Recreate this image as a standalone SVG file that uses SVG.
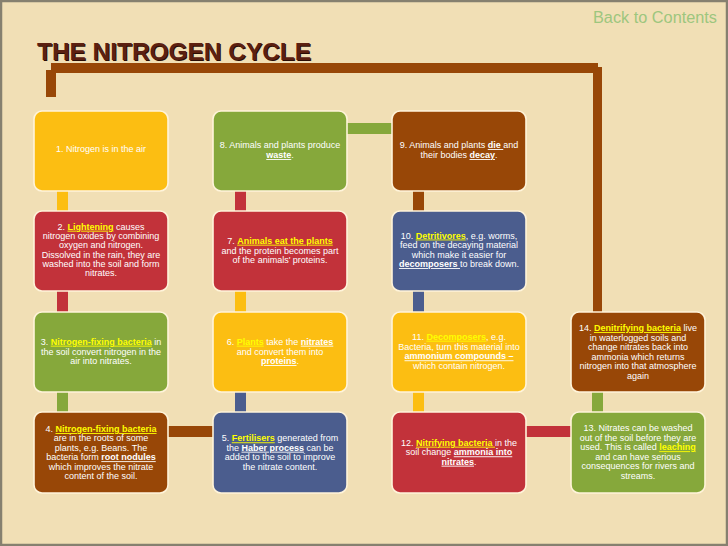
<svg xmlns="http://www.w3.org/2000/svg" width="728" height="546" viewBox="0 0 728 546">
<defs>
<style>
.bg{fill:#F1DFB5}
.frame{fill:none;stroke:#86806f;stroke-width:2.5}
.node{stroke:#FFF4DA;stroke-width:1.6}
.or{fill:#FCBE12}.rd{fill:#C2323A}.gr{fill:#86A83B}.br{fill:#984707}.bl{fill:#4B5D8E}
.t{font-family:"Liberation Sans",Arial,sans-serif;font-size:9px;fill:#FFFFFF;text-anchor:middle}
.y{fill:#FFFF00;font-weight:bold;text-decoration:underline}
.w{font-weight:bold;text-decoration:underline}
.title{font-family:"Liberation Sans",Arial,sans-serif;font-weight:bold;font-size:24px}
</style>
</defs>
<rect class="bg" x="0" y="0" width="728" height="546"/>
<rect class="frame" x="1" y="1" width="726" height="544"/>
<text class="title" x="38" y="61" fill="#2a0c04" textLength="274" lengthAdjust="spacingAndGlyphs">THE NITROGEN CYCLE</text>
<text class="title" x="37" y="60" fill="#5C2010" textLength="274" lengthAdjust="spacingAndGlyphs">THE NITROGEN CYCLE</text>
<text x="593" y="23" font-family="Liberation Sans, Arial, sans-serif" font-size="16" fill="#9DC67E" textLength="124" lengthAdjust="spacingAndGlyphs">Back to Contents</text>

<g id="connectors">
<rect class="or" x="57" y="190" width="11" height="22"/>
<rect class="rd" x="57" y="290" width="11" height="23"/>
<rect class="gr" x="57" y="391" width="11" height="22"/>
<rect class="br" x="167" y="426" width="47" height="11"/>
<rect class="bl" x="235" y="391" width="11" height="22"/>
<rect class="or" x="235" y="290" width="11" height="23"/>
<rect class="rd" x="235" y="190" width="11" height="22"/>
<rect class="gr" x="346" y="123" width="47" height="11"/>
<rect class="br" x="413" y="190" width="11" height="22"/>
<rect class="bl" x="413" y="290" width="11" height="23"/>
<rect class="or" x="413" y="391" width="11" height="22"/>
<rect class="rd" x="525" y="426" width="47" height="11"/>
<rect class="gr" x="592" y="391" width="11" height="22"/>
<rect class="br" x="51" y="63" width="547" height="10"/>
<rect class="br" x="46" y="70" width="10" height="27"/>
<rect class="br" x="593" y="67" width="9" height="246"/>
</g>

<g id="n1"><rect class="node or" x="34" y="111" width="134" height="80" rx="8"/>
<text class="t" x="101" y="152">1. Nitrogen is in the air</text></g>

<g id="n2"><rect class="node rd" x="34" y="211" width="134" height="80" rx="8"/>
<text class="t" x="101" y="229.7">2. <tspan class="y">Lightening</tspan> causes</text>
<text class="t" x="101" y="239">nitrogen oxides by combining</text>
<text class="t" x="101" y="248.3">oxygen and nitrogen.</text>
<text class="t" x="101" y="257.6">Dissolved in the rain, they are</text>
<text class="t" x="101" y="266.9">washed into the soil and form</text>
<text class="t" x="101" y="276.2">nitrates.</text></g>

<g id="n3"><rect class="node gr" x="34" y="312" width="134" height="80" rx="8"/>
<text class="t" x="101" y="344.7">3. <tspan class="y">Nitrogen-fixing bacteria</tspan> in</text>
<text class="t" x="101" y="354.5">the soil convert nitrogen in the</text>
<text class="t" x="101" y="364">air into nitrates.</text></g>

<g id="n4"><rect class="node br" x="34" y="412" width="134" height="81" rx="8"/>
<text class="t" x="101" y="432">4. <tspan class="y">Nitrogen-fixing bacteria</tspan></text>
<text class="t" x="101" y="441.4">are in the roots of some</text>
<text class="t" x="101" y="450.8">plants, e.g. Beans. The</text>
<text class="t" x="101" y="460.2">bacteria form <tspan class="w">root nodules</tspan></text>
<text class="t" x="101" y="469.6">which improves the nitrate</text>
<text class="t" x="101" y="479">content of the soil.</text></g>

<g id="n5"><rect class="node bl" x="213" y="412" width="134" height="81" rx="8"/>
<text class="t" x="280" y="441.3">5. <tspan class="y">Fertilisers</tspan> generated from</text>
<text class="t" x="280" y="450.7">the <tspan class="w">Haber process</tspan> can be</text>
<text class="t" x="280" y="460">added to the soil to improve</text>
<text class="t" x="280" y="469.5">the nitrate content.</text></g>

<g id="n6"><rect class="node or" x="213" y="312" width="134" height="80" rx="8"/>
<text class="t" x="280" y="344.7">6. <tspan class="y">Plants</tspan> take the <tspan class="w">nitrates</tspan></text>
<text class="t" x="280" y="354.5">and convert them into</text>
<text class="t" x="280" y="364"><tspan class="w">proteins</tspan>.</text></g>

<g id="n7"><rect class="node rd" x="213" y="211" width="134" height="80" rx="8"/>
<text class="t" x="280" y="243.7">7. <tspan class="y">Animals eat the plants</tspan></text>
<text class="t" x="280" y="253.5">and the protein becomes part</text>
<text class="t" x="280" y="263">of the animals' proteins.</text></g>

<g id="n8"><rect class="node gr" x="213" y="111" width="134" height="80" rx="8"/>
<text class="t" x="280" y="148">8. Animals and plants produce</text>
<text class="t" x="280" y="158"><tspan class="w">waste</tspan>.</text></g>

<g id="n9"><rect class="node br" x="392" y="111" width="134" height="80" rx="8"/>
<text class="t" x="459" y="148">9. Animals and plants <tspan class="w">die </tspan>and</text>
<text class="t" x="459" y="158">their bodies <tspan class="w">decay</tspan>.</text></g>

<g id="n10"><rect class="node bl" x="392" y="211" width="134" height="80" rx="8"/>
<text class="t" x="459" y="238.5">10. <tspan class="y">Detritivores</tspan>, e.g. worms,</text>
<text class="t" x="459" y="248">feed on the decaying material</text>
<text class="t" x="459" y="257.5">which make it easier for</text>
<text class="t" x="459" y="267"><tspan class="w">decomposers </tspan>to break down.</text></g>

<g id="n11"><rect class="node or" x="392" y="312" width="134" height="80" rx="8"/>
<text class="t" x="459" y="339.7">11. <tspan class="y">Decomposers</tspan>, e.g.</text>
<text class="t" x="459" y="349.5">Bacteria, turn this material into</text>
<text class="t" x="459" y="359.3"><tspan class="w">ammonium compounds –</tspan></text>
<text class="t" x="459" y="369">which contain nitrogen.</text></g>

<g id="n12"><rect class="node rd" x="392" y="412" width="134" height="81" rx="8"/>
<text class="t" x="459" y="445.7">12. <tspan class="y">Nitrifying bacteria </tspan>in the</text>
<text class="t" x="459" y="455.3">soil change <tspan class="w">ammonia into</tspan></text>
<text class="t" x="459" y="464.7"><tspan class="w">nitrates</tspan>.</text></g>

<g id="n13"><rect class="node gr" x="571" y="412" width="134" height="81" rx="8"/>
<text class="t" x="638" y="431">13. Nitrates can be washed</text>
<text class="t" x="638" y="440.6">out of the soil before they are</text>
<text class="t" x="638" y="450.2">used. This is called <tspan class="y">leaching</tspan></text>
<text class="t" x="638" y="459.8">and can have serious</text>
<text class="t" x="638" y="469.4">consequences for rivers and</text>
<text class="t" x="638" y="479">streams.</text></g>

<g id="n14"><rect class="node br" x="571" y="312" width="134" height="80" rx="8"/>
<text class="t" x="638" y="331">14. <tspan class="y">Denitrifying bacteria</tspan> live</text>
<text class="t" x="638" y="340.6">in waterlogged soils and</text>
<text class="t" x="638" y="350.2">change nitrates back into</text>
<text class="t" x="638" y="359.8">ammonia which returns</text>
<text class="t" x="638" y="369.4">nitrogen into that atmosphere</text>
<text class="t" x="638" y="379">again</text></g>
</svg>
